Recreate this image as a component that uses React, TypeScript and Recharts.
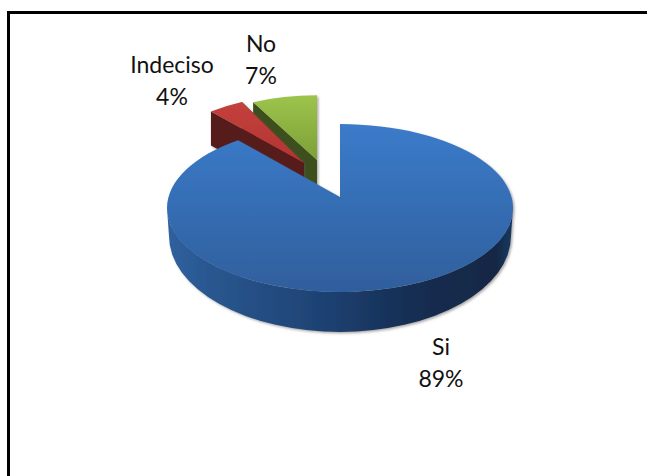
import { PieChart, Pie } from "recharts"

// drawn in this order so the big slice sits on top of the two small ones
const names = ["No", "Indeciso", "Si"]
const shares = [7, 4, 89]

const data = names.map((name, i) => ({ name, value: shares[i] }))

const FLATTEN = 0.485 // ellipse height / width
const DEPTH = 34

// how each slice is pulled out and scaled, relative to the pie centre;
// lift is how far the apex sits above the slice's ellipse centre,
// tilt nudges the back edge for the perspective of the big slice
const sliceLayout: Record<string, { dx: number; dy: number; scale: number; lift: number; tilt: number }> = {
  No: { dx: -23, dy: -40, scale: 0.867, lift: 8, tilt: 0 },
  Indeciso: { dx: -36, dy: -42, scale: 0.844, lift: 3, tilt: 0 },
  Si: { dx: 0, dy: 0, scale: 1, lift: 11, tilt: -3.5 },
}

const sliceFills: Record<string, { top: string; face: string }> = {
  No: { top: "url(#greenTop)", face: "#3c4f1c" },
  Indeciso: { top: "url(#redTop)", face: "#561a1a" },
  Si: { top: "url(#blueTop)", face: "#1c3d6b" },
}

const labelSpots: Record<string, { x: number; y: number }> = {
  No: { x: -79, y: -156 },
  Indeciso: { x: -168, y: -135 },
  Si: { x: 101, y: 147 },
}

function Slice(props: any) {
  const { cx, cy, outerRadius, startAngle, endAngle } = props
  const name: string = props.name ?? props.payload?.name
  const { dx, dy, scale, lift, tilt } = sliceLayout[name]
  const rx = outerRadius * scale
  const ry = rx * FLATTEN
  const cX = cx + dx
  const cY = cy + dy
  const tipY = cY - lift

  const at = (deg: number) => {
    const a = (deg * Math.PI) / 180
    return { x: cX + rx * Math.cos(a), y: cY - ry * Math.sin(a) }
  }
  const a = at(startAngle + tilt)
  const b = at(endAngle)
  const large = endAngle - startAngle > 180 ? 1 : 0
  const top = `M${cX},${tipY} L${a.x},${a.y} A${rx},${ry} 0 ${large} 0 ${b.x},${b.y} Z`

  if (name === "Si") {
    // only the front of the rim can be seen
    const rim =
      `M${cX - rx},${cY} A${rx},${ry} 0 0 0 ${cX + rx},${cY} ` +
      `L${cX + rx - 2},${cY + 28} A${rx - 2},${ry + 12} 0 0 1 ${cX - rx + 2},${cY + 28} Z`
    return (
      <g filter="url(#softShadow)">
        <path d={rim} fill="url(#blueRim)" />
        <path d={top} fill={sliceFills[name].top} />
      </g>
    )
  }

  // cut faces of a pulled-out slice
  const face = `M${cX},${tipY} L${b.x},${b.y} L${b.x},${b.y + DEPTH} L${cX},${tipY + DEPTH} Z`
  const right = `M${cX},${tipY} L${a.x},${a.y} L${a.x},${a.y + DEPTH} L${cX},${tipY + DEPTH} Z`
  return (
    <g filter="url(#softShadow)">
      <path d={right} fill={sliceFills[name].face} />
      <path d={face} fill={sliceFills[name].face} />
      <path d={top} fill={sliceFills[name].top} />
    </g>
  )
}

function SliceLabel(props: any) {
  const { cx, cy, name, value } = props
  const spot = labelSpots[name]
  const x = cx + spot.x
  const y = cy + spot.y
  return (
    <text x={x} y={y} textAnchor="middle" fontFamily="Lato, sans-serif" fontSize={23} fill="#111">
      <tspan x={x}>{name}</tspan>
      <tspan x={x} dy={32}>{`${value}%`}</tspan>
    </text>
  )
}

export default function App() {
  return (
    <div style={{ position: "absolute", left: 0, top: 0, width: 647, height: 476, overflow: "hidden", background: "#fff" }}>
      <div
        style={{
          position: "absolute",
          left: 7,
          top: 11,
          width: 640,
          height: 465,
          borderLeft: "3px solid #000",
          borderTop: "3px solid #000",
        }}
      />
      <PieChart
        width={647}
        height={476}
        margin={{ top: 0, right: 0, bottom: 0, left: 0 }}
        style={{ position: "absolute", left: 0, top: 0 }}
      >
        <defs>
          <linearGradient id="blueTop" x1="0" y1="0" x2="0" y2="1">
            <stop offset="0" stopColor="#3b7bca" />
            <stop offset="1" stopColor="#2f5f9c" />
          </linearGradient>
          <linearGradient id="blueRim" x1="0" y1="0" x2="1" y2="0">
            <stop offset="0" stopColor="#2f619f" />
            <stop offset="0.12" stopColor="#2a5790" />
            <stop offset="0.45" stopColor="#1e4273" />
            <stop offset="0.7" stopColor="#152e53" />
            <stop offset="0.95" stopColor="#122744" />
            <stop offset="1" stopColor="#1a3a63" />
          </linearGradient>
          <linearGradient id="redTop" x1="0" y1="0" x2="0" y2="1">
            <stop offset="0" stopColor="#c4403c" />
            <stop offset="1" stopColor="#b03532" />
          </linearGradient>
          <linearGradient id="greenTop" x1="0" y1="0" x2="0" y2="1">
            <stop offset="0" stopColor="#9dc44b" />
            <stop offset="1" stopColor="#7d9f38" />
          </linearGradient>
          <filter id="softShadow" x="-5%" y="-5%" width="110%" height="110%">
            <feDropShadow dx="1.5" dy="1.5" stdDeviation="1.2" floodColor="#555" floodOpacity="0.5" />
          </filter>
        </defs>
        <Pie
          data={data}
          dataKey="value"
          nameKey="name"
          cx={340}
          cy={208}
          outerRadius={173}
          startAngle={90}
          endAngle={450}
          stroke="none"
          labelLine={false}
          label={SliceLabel}
          shape={Slice}
          isAnimationActive={false}
        />
      </PieChart>
    </div>
  )
}
